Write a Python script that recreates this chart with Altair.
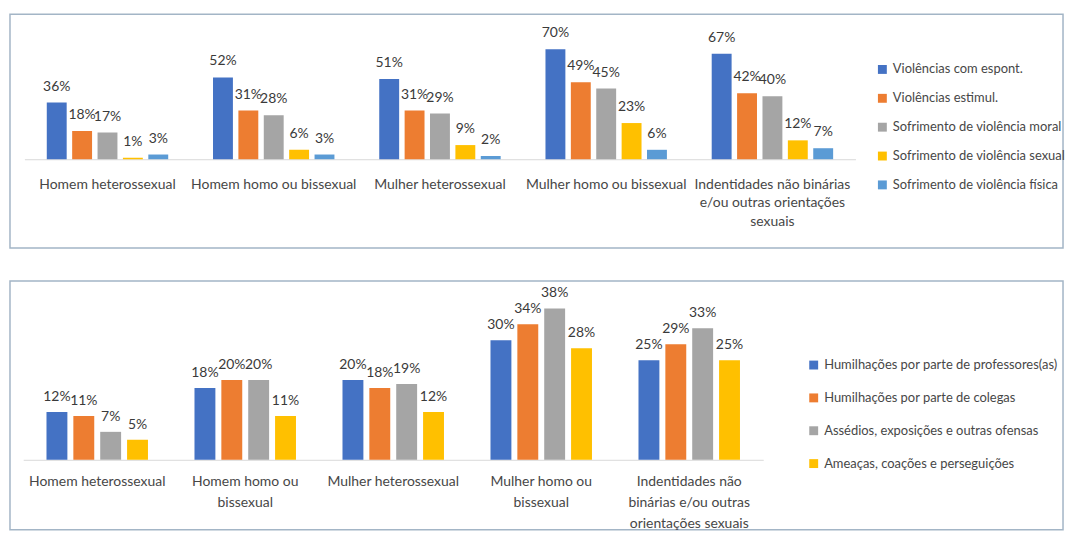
import altair as alt
import pandas as pd

# ---------------- data ----------------
top_groups = [
    "Homem heterossexual",
    "Homem homo ou bissexual",
    "Mulher heterossexual",
    "Mulher homo ou bissexual",
    "Indentidades não binárias|e/ou outras orientações|sexuais",
]
top_series = [
    "Violências com espont.",
    "Violências estimul.",
    "Sofrimento de violência moral",
    "Sofrimento de violência sexual",
    "Sofrimento de violência física",
]
top_espont = [36, 52, 51, 70, 67]
top_estimul = [18, 31, 31, 49, 42]
top_moral = [17, 28, 29, 45, 40]
top_sexual = [1, 6, 9, 23, 12]
top_fisica = [3, 3, 2, 6, 7]
top_colors = ["#4472C4", "#ED7D31", "#A5A5A5", "#FFC000", "#5B9BD5"]

bot_groups = [
    "Homem heterossexual",
    "Homem homo ou|bissexual",
    "Mulher heterossexual",
    "Mulher homo ou|bissexual",
    "Indentidades não|binárias e/ou outras|orientações sexuais",
]
bot_series = [
    "Humilhações por parte de professores(as)",
    "Humilhações por parte de colegas",
    "Assédios, exposições e outras ofensas",
    "Ameaças, coações e perseguições",
]
bot_prof = [12, 18, 20, 30, 25]
bot_colegas = [11, 20, 18, 34, 29]
bot_assedios = [7, 20, 19, 38, 33]
bot_ameacas = [5, 11, 12, 28, 25]
bot_colors = ["#4472C4", "#ED7D31", "#A5A5A5", "#FFC000"]

FONT = "Lato"
FS = 14
LEG_FS = 13
TXT = "#3a3a3a"
LBL = "#474747"


def make_df(groups, series, values):
    rows = []
    for s, vals in zip(series, values):
        for g, v in zip(groups, vals):
            rows.append({"grupo": g, "serie": s, "valor": v, "rotulo": f"{v}%"})
    return pd.DataFrame(rows)


def panel(df, groups, series, colors, width, height, ydom, xrange, x_pi, x_po,
          off_pi, off_po, axis_offset, label_pad, line_h, leg_x, leg_y, row_pad, dy):
    base = alt.Chart(df).encode(
        x=alt.X(
            "grupo:N",
            sort=groups,
            scale=alt.Scale(domain=groups, range=xrange,
                            paddingInner=x_pi, paddingOuter=x_po),
            axis=alt.Axis(
                title=None, orient="bottom", offset=axis_offset,
                ticks=False, grid=False, labelAngle=0,
                domainColor="#d9d9d9", domainWidth=1,
                labelPadding=label_pad, labelFont=FONT, labelFontSize=FS,
                labelColor=LBL, labelLimit=0, labelLineHeight=line_h,
                labelExpr="split(datum.label, '|')",
            ),
        ),
        xOffset=alt.XOffset(
            "serie:N", sort=series,
            scale=alt.Scale(domain=series, paddingInner=off_pi, paddingOuter=off_po),
        ),
        y=alt.Y("valor:Q", scale=alt.Scale(domain=ydom, nice=False, zero=False), axis=None),
    )
    bars = base.mark_bar().encode(
        y2=alt.datum(0),
        color=alt.Color(
            "serie:N",
            scale=alt.Scale(domain=series, range=colors),
            legend=alt.Legend(
                title=None, orient="none", legendX=leg_x, legendY=leg_y,
                symbolType="square", symbolSize=80, symbolStrokeWidth=0,
                labelFont=FONT, labelFontSize=LEG_FS, labelColor=LBL,
                labelLimit=0, labelOffset=4, rowPadding=row_pad,
            ),
        ),
    )
    labels = base.mark_text(
        baseline="alphabetic", dy=dy, fontSize=FS, font=FONT, color=TXT
    ).encode(text="rotulo:N")
    return alt.layer(bars, labels).properties(width=width, height=height)


df_top = make_df(top_groups, top_series,
                 [top_espont, top_estimul, top_moral, top_sexual, top_fisica])
df_bot = make_df(bot_groups, bot_series,
                 [bot_prof, bot_colegas, bot_assedios, bot_ameacas])

top = panel(
    df_top, top_groups, top_series, top_colors,
    width=1058, height=235, ydom=[-56.5, 92.2], xrange=[14.5, 849.5],
    x_pi=0.2365, x_po=0.118, off_pi=0.216, off_po=0.108,
    axis_offset=-89.3, label_pad=18, line_h=19,
    leg_x=870, leg_y=49, row_pad=15, dy=-12,
)
bottom = panel(
    df_bot, bot_groups, bot_series, bot_colors,
    width=1058, height=250, ydom=[-17.6, 44.9], xrange=[13.3, 756.8],
    x_pi=0.274, x_po=0.137, off_pi=0.222, off_po=0.111,
    axis_offset=-70.3, label_pad=15, line_h=21,
    leg_x=801, leg_y=78, row_pad=19, dy=-11,
)

chart = (
    alt.vconcat(top, bottom, spacing=31)
    .resolve_scale(color="independent", x="independent", y="independent",
                   xOffset="independent")
    .resolve_legend(color="independent")
    .properties(padding={"left": 1, "top": 4, "right": 0, "bottom": 0},
                background="white")
    .configure_view(stroke="#a3b5c6", strokeWidth=1.5)
)

chart.save("out.html", embed_options={"renderer": "svg", "actions": False})
